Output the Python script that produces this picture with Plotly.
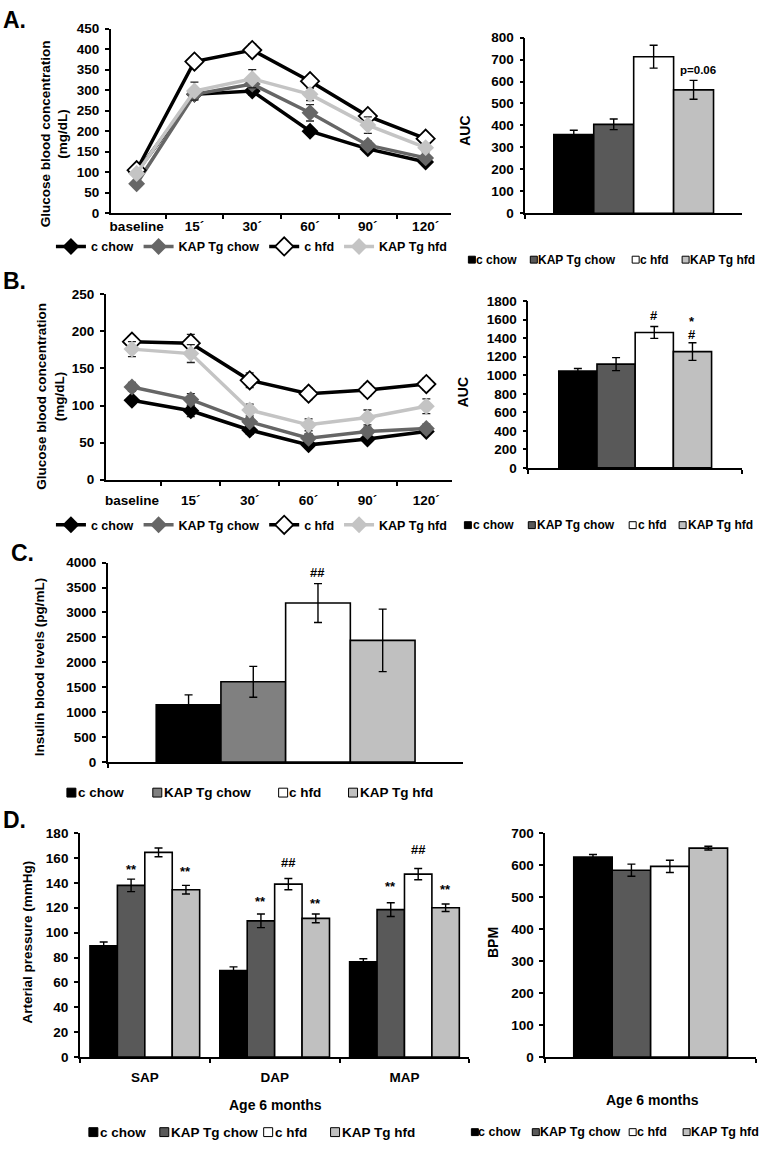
import plotly.graph_objects as go

W, H = 767, 1150
FONT = "Liberation Sans"

groups = ["c chow", "KAP Tg chow", "c hfd", "KAP Tg hfd"]
time_labels = ["baseline", "15´", "30´", "60´", "90´", "120´"]

# ---- Panel A (glucose tolerance) ----
a_c_chow = [100, 290, 298, 200, 157, 125]
a_c_chow_err = [6, 10, 10, 8, 6, 6]
a_kap_chow = [72, 290, 315, 245, 166, 135]
a_kap_chow_err = [5, 12, 12, 20, 10, 6]
a_c_hfd = [105, 370, 398, 322, 237, 182]
a_c_hfd_err = [6, 8, 15, 12, 10, 8]
a_kap_hfd = [97, 298, 328, 290, 215, 160]
a_kap_hfd_err = [5, 22, 22, 15, 20, 10]
a_auc = [358, 405, 713, 562]
a_auc_err = [20, 24, 52, 43]

# ---- Panel B (insulin tolerance) ----
b_c_chow = [107, 93, 67, 47, 55, 65]
b_c_chow_err = [4, 8, 6, 4, 4, 4]
b_kap_chow = [125, 108, 78, 56, 65, 69]
b_kap_chow_err = [6, 8, 6, 6, 6, 6]
b_c_hfd = [186, 184, 134, 116, 121, 129]
b_c_hfd_err = [8, 12, 10, 8, 8, 8]
b_kap_hfd = [176, 170, 94, 74, 84, 99]
b_kap_hfd_err = [10, 12, 8, 8, 10, 10]
b_auc = [1045, 1120, 1462, 1255]
b_auc_err = [28, 70, 64, 95]

# ---- Panel C (insulin) ----
c_insulin = [1150, 1610, 3190, 2440]
c_insulin_err = [198, 310, 390, 627]

# ---- Panel D (blood pressure, heart rate) ----
d_categories = ["SAP", "DAP", "MAP"]
d_c_chow = [89.5, 69.5, 76.5]
d_c_chow_err = [3, 3, 2.5]
d_kap_chow = [138, 109.5, 118.5]
d_kap_chow_err = [5, 5.5, 5.5]
d_c_hfd = [164.5, 139, 147]
d_c_hfd_err = [3.5, 4.5, 4.5]
d_kap_hfd = [134.5, 111.5, 120]
d_kap_hfd_err = [3.5, 3.5, 3]
bpm = [625, 584, 596, 653]
bpm_err = [8, 19, 19, 6]

# ---------------------------------------------------------------
def X(px):
    return px / W


def Y(py):
    return 1 - py / H


BAR_COLORS = ["#000000", "#595959", "#ffffff", "#c0c0c0"]
BAR_COLORS_C = ["#000000", "#808080", "#ffffff", "#c0c0c0"]
LINE_COLORS = ["#000000", "#666666", "#000000", "#c4c4c4"]
MARKER_FILL = ["#000000", "#666666", "#ffffff", "#c4c4c4"]

fig = go.Figure()
annotations = []
shapes = []

# axis rectangles in pixels: (x0, x1, ytop, ybottom)
AX = {
    1: (110, 451, 22, 209),
    2: (525, 742, 31, 209),
    3: (105, 452, 291, 479),
    4: (528, 742, 298, 467),
    5: (107, 463, 563, 765),
    6: (79, 469, 837, 1064),
    7: (545, 756, 837, 1064),
}
YR = {1: (450, 50), 2: (800, 100), 3: (250, 50), 4: (1800, 200),
      5: (4000, 500), 6: (180, 20), 7: (700, 100)}


def bold(size):
    return dict(family=FONT, size=size, color="black", weight="bold")


def ax_names(n):
    return ("x" if n == 1 else f"x{n}"), ("y" if n == 1 else f"y{n}")


# ---- line charts ----
def line_panel(n, series, errs, legend):
    xa, ya = ax_names(n)
    for i, (vals, er) in enumerate(zip(series, errs)):
        fig.add_trace(go.Scatter(
            x=time_labels, y=vals, name=groups[i], mode="lines+markers",
            line=dict(color=LINE_COLORS[i], width=3.5),
            marker=dict(symbol="diamond", size=14 if i == 2 else 13,
                        color=MARKER_FILL[i],
                        line=dict(color="black" if i == 2 else MARKER_FILL[i],
                                  width=1.8 if i == 2 else 0)),
            error_y=dict(type="data", array=er, color="#222222",
                         thickness=1.3, width=4),
            xaxis=xa, yaxis=ya, legend=legend, showlegend=True))


line_panel(1, [a_c_chow, a_kap_chow, a_c_hfd, a_kap_hfd],
           [a_c_chow_err, a_kap_chow_err, a_c_hfd_err, a_kap_hfd_err], "legend")
line_panel(3, [b_c_chow, b_kap_chow, b_c_hfd, b_kap_hfd],
           [b_c_chow_err, b_kap_chow_err, b_c_hfd_err, b_kap_hfd_err], "legend2")


# ---- bar charts ----
def bar_panel(n, cats, series, errs, colors, group_frac):
    xa, ya = ax_names(n)
    w = group_frac / 4
    for i, (vals, er) in enumerate(zip(series, errs)):
        fig.add_trace(go.Bar(
            x=cats, y=vals, name=groups[i], width=w,
            offset=-group_frac / 2 + i * w,
            marker=dict(color=colors[i], line=dict(color="black", width=1.6)),
            error_y=dict(type="data", array=er, color="black",
                         thickness=1.4, width=4),
            xaxis=xa, yaxis=ya, showlegend=False))
    return w


def bar_center(cat_idx, i, group_frac):
    w = group_frac / 4
    return cat_idx - group_frac / 2 + (i + 0.5) * w


GF = {2: 0.737, 4: 0.715, 5: 0.728, 6: 0.845, 7: 0.73}

bar_panel(2, ["AUC"], [[v] for v in a_auc], [[e] for e in a_auc_err],
          BAR_COLORS, GF[2])
bar_panel(4, ["AUC"], [[v] for v in b_auc], [[e] for e in b_auc_err],
          BAR_COLORS, GF[4])
bar_panel(5, ["Insulin"], [[v] for v in c_insulin], [[e] for e in c_insulin_err],
          BAR_COLORS_C, GF[5])
bar_panel(6, d_categories, [d_c_chow, d_kap_chow, d_c_hfd, d_kap_hfd],
          [d_c_chow_err, d_kap_chow_err, d_c_hfd_err, d_kap_hfd_err],
          BAR_COLORS, GF[6])
bar_panel(7, ["BPM"], [[v] for v in bpm], [[e] for e in bpm_err],
          BAR_COLORS, GF[7])

# ---- axes ----
layout_axes = {}
for n, (x0, x1, yt, yb) in AX.items():
    xk = "xaxis" if n == 1 else f"xaxis{n}"
    yk = "yaxis" if n == 1 else f"yaxis{n}"
    ymax, dt = YR[n]
    layout_axes[xk] = dict(
        domain=[X(x0), X(x1)], anchor=ax_names(n)[1], type="category",
        tickson="boundaries", ticks="outside", ticklen=4, tickwidth=1.5,
        tickcolor="black", showline=True, linecolor="black", linewidth=1.6,
        showgrid=False, zeroline=False, tickfont=bold(13.5), tickangle=0,
        showticklabels=n in (1, 3, 6), fixedrange=True)
    layout_axes[yk] = dict(
        domain=[Y(yb), Y(yt)], anchor=ax_names(n)[0], range=[0, ymax],
        dtick=dt, ticks="outside", ticklen=4, tickwidth=1.5, tickcolor="black",
        showline=True, linecolor="black", linewidth=1.6, showgrid=False,
        zeroline=False, tickfont=bold(13.5), fixedrange=True,
        ticklabelstandoff=3)

layout_axes["xaxis"]["ticklabelstandoff"] = 0
layout_axes["xaxis3"]["ticklabelstandoff"] = 7
layout_axes["xaxis6"]["ticklabelstandoff"] = 7


# ---- text annotations ----
def txt(text, x, y, size=12.5, angle=0, xanchor="center", xref="paper", yref="paper"):
    annotations.append(dict(text=text, x=x, y=y, xref=xref, yref=yref,
                            showarrow=False, textangle=angle, xanchor=xanchor,
                            yanchor="middle", font=bold(size), borderpad=0))


# panel labels
txt("A.", X(1), Y(13), 23, xanchor="left")
txt("B.", X(1), Y(278), 23, xanchor="left")
txt("C.", X(9), Y(553), 23, xanchor="left")
txt("D.", X(1), Y(824), 23, xanchor="left")

# axis titles
txt("Glucose blood concentration<br>(mg/dL)", X(53), Y(128), 13.5, angle=-90)
txt("AUC", X(465), Y(125), 14, angle=-90)
txt("Glucose blood concentration<br>(mg/dL)", X(50), Y(394), 13.5, angle=-90)
txt("AUC", X(463), Y(390), 14, angle=-90)
txt("Insulin blood levels (pg/mL)", X(38), Y(668), 13.5, angle=-90)
txt("Arterial pressure (mmHg)", X(27), Y(947), 13.5, angle=-90)
txt("BPM", X(492), Y(948), 14, angle=-90)
txt("Age 6 months", X(275), Y(1113), 14)
txt("Age 6 months", X(652), Y(1107), 14)

# significance marks (data coordinates)
txt("#", bar_center(0, 2, GF[2]), 810, 13, xref="x2", yref="y2")
txt("p=0.06", bar_center(0, 3, GF[2]) + 0.02, 652, 11.5, xref="x2", yref="y2")
txt("#", bar_center(0, 2, GF[4]), 1650, 13, xref="x4", yref="y4")
txt("*", bar_center(0, 3, GF[4]), 1585, 13, xref="x4", yref="y4")
txt("#", bar_center(0, 3, GF[4]), 1445, 13, xref="x4", yref="y4")
txt("##", bar_center(0, 2, GF[5]), 3800, 13, xref="x5", yref="y5")
d_hash = [181, 156, 167]
d_star_kap = [151, 125, 137]
d_star_hfd = [149, 123.5, 135]
for k in range(3):
    txt("##", bar_center(k, 2, GF[6]), d_hash[k], 13, xref="x6", yref="y6")
    txt("**", bar_center(k, 1, GF[6]), d_star_kap[k], 13, xref="x6", yref="y6")
    txt("**", bar_center(k, 3, GF[6]), d_star_hfd[k], 13, xref="x6", yref="y6")


# ---- square legends for bar charts ----
def square_legend(ypix, sq_x, txt_x, size, fsize, colors):
    for sx, tx, col, lab in zip(sq_x, txt_x, colors, groups):
        shapes.append(dict(type="rect", xref="paper", yref="paper",
                           x0=X(sx), x1=X(sx + size),
                           y0=Y(ypix + size / 2), y1=Y(ypix - size / 2),
                           fillcolor=col, line=dict(color="black", width=1)))
        annotations.append(dict(text=lab, x=X(tx), y=Y(ypix), xref="paper",
                                yref="paper", showarrow=False, xanchor="left",
                                yanchor="middle", font=bold(fsize), borderpad=0))


square_legend(256, [468, 530, 632, 682], [475, 537, 639, 689], 7, 12, BAR_COLORS)
square_legend(525, [464, 528, 629, 679], [472, 536, 637, 687], 7, 12, BAR_COLORS)
square_legend(796, [66, 152, 278, 348], [76, 162, 287, 358], 9, 13.5, BAR_COLORS_C)
square_legend(1140, [88, 159, 263, 330], [98, 169, 273, 340], 9, 13.5, BAR_COLORS)
square_legend(1140, [471, 532, 629, 683], [477, 539, 636, 690], 7, 12.5, BAR_COLORS)

legend_common = dict(orientation="h", xanchor="left", yanchor="middle",
                     font=bold(12.5), bgcolor="rgba(0,0,0,0)", itemwidth=30,
                     itemclick=False, itemdoubleclick=False)

fig.update_layout(
    width=W, height=H, margin=dict(l=0, r=0, t=0, b=0),
    paper_bgcolor="white", plot_bgcolor="white",
    barmode="overlay", showlegend=True,
    legend=dict(x=X(50), y=Y(243), **legend_common),
    legend2=dict(x=X(50), y=Y(525), **legend_common),
    annotations=annotations, shapes=shapes,
    **layout_axes,
)

fig.write_html("out.html",
               config={"displayModeBar": False},
               post_script="document.body.style.margin='0px';"
                           "document.body.style.overflow='hidden';")
